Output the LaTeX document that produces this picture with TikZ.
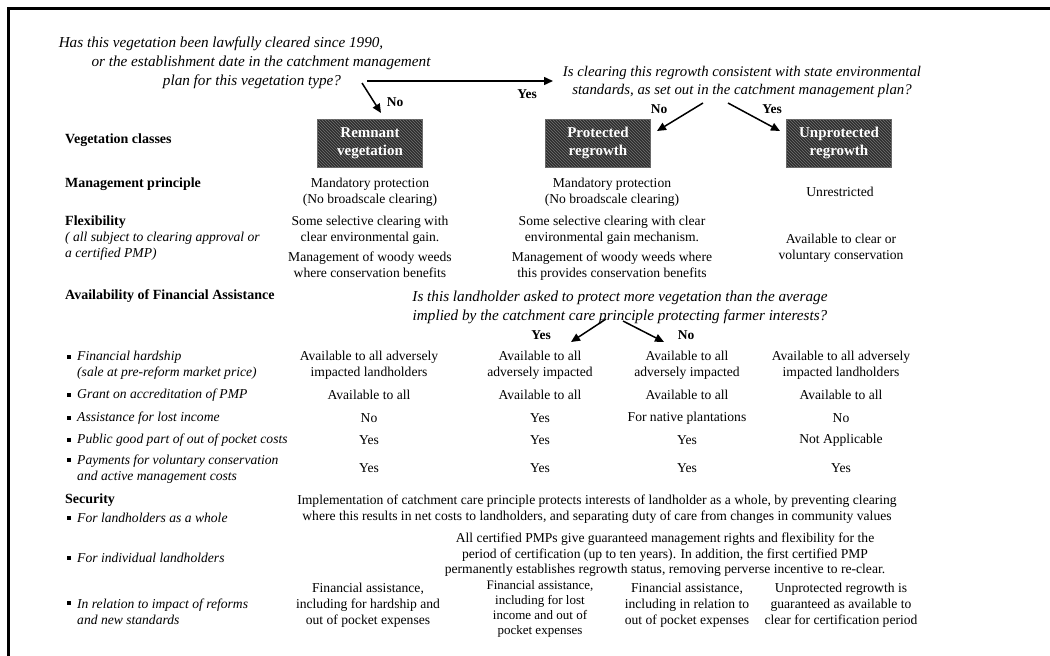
\documentclass[tikz,border=0pt]{standalone}
\usepackage{fontspec}
\setmainfont{Liberation Serif}
\usetikzlibrary{arrows.meta}
\usetikzlibrary{patterns}
\usetikzlibrary{positioning}

\tikzset{
  frame/.style={line width=3pt},
  hdr/.style={anchor=west,inner sep=0pt,font=\fontsize{14}{16}\selectfont\bfseries},
  lbl/.style={anchor=west,inner sep=0pt,align=left,font=\fontsize{13.6}{16}\selectfont\itshape},
  val/.style={inner sep=0pt,align=center,font=\fontsize{13.6}{16}\selectfont},
  ques/.style={inner sep=0pt,align=center,font=\fontsize{15.2}{19}\selectfont\itshape},
  ans/.style={inner sep=0pt,font=\fontsize{13.5}{16}\selectfont\bfseries},
  clsbox/.style={draw=black!60,line width=1pt,fill=black!82,minimum width=105pt,minimum height=48pt,
    align=center,text=white,font=\fontsize{15}{18}\selectfont\bfseries,
    postaction={pattern=north west lines,pattern color=black!55}},
  bul/.style={fill=black,inner sep=0pt,minimum size=4pt},
  arr/.style={-{Triangle[length=9pt,width=8pt]},line width=1.5pt},
}

\begin{document}
\begin{tikzpicture}[x=1pt,y=-1pt]
	\useasboundingbox (0,0) rectangle (1050,656);
	\draw[frame] (1050,8.5) -- (8.5,8.5) -- (8.5,656);

	% decision questions
	\node[ques] (q1) at (261,63) {Has this vegetation been lawfully cleared since 1990,\hspace*{80pt}\\or the establishment date in the catchment management\\plan for this vegetation type?\hspace*{18pt}};
	\node[ques,font=\fontsize{14.8}{18.5}\selectfont\itshape] (q2) at (742,82) {Is clearing this regrowth consistent with state environmental\\standards, as set out in the catchment management plan?};
	\node[ques] (q3) at (620,307.5) {Is this landholder asked to protect more vegetation than the average\\implied by the catchment care principle protecting farmer interests?};

	% vegetation classes
	\node[clsbox] (rem) at (370,143) {Remnant\\vegetation};
	\node[clsbox] (prot) at (598,143) {Protected\\regrowth};
	\node[clsbox] (unp) at (839,143) {Unprotected\\regrowth};

	% answers
	\node[ans] (q1yes) at (527,94) {Yes};
	\node[ans] (q1no) at (395,102) {No};
	\node[ans] (q2no) at (659,109) {No};
	\node[ans] (q2yes) at (772,109) {Yes};
	\node[ans] (q3yes) at (541,335) {Yes};
	\node[ans] (q3no) at (686,335) {No};

	\coordinate (q1a) at (367,81);
	\coordinate (q1b) at (553,81);
	\coordinate (q1c) at (362,83);
	\coordinate (q1d) at (381,113);
	\coordinate (q2a) at (703,103);
	\coordinate (q2b) at (657,131);
	\coordinate (q2c) at (728,103);
	\coordinate (q2d) at (780,131);
	\coordinate (q3a) at (606,319);
	\coordinate (q3b) at (571,342);
	\coordinate (q3c) at (623,321);
	\coordinate (q3d) at (664,342);
	\draw[arr] (q1a) -- (q1b);
	\draw[arr] (q1c) -- (q1d);
	\draw[arr] (q2a) -- (q2b);
	\draw[arr] (q2c) -- (q2d);
	\draw[arr] (q3a) -- (q3b);
	\draw[arr] (q3c) -- (q3d);

	% row headings
	\node[hdr] (hcls) at (65,140) {Vegetation classes};
	\node[hdr] (hmp) at (65,184) {Management principle};
	\node[hdr] (hflx) at (65,222) {Flexibility};
	\node[lbl] (lflx) at (65,246.5) {( all subject to clearing approval or\\a certified PMP)};
	\node[hdr] (hfin) at (65,296) {Availability of Financial Assistance};
	\node[hdr] (hsec) at (65,500) {Security};

	\foreach \y [count=\i] in {357,395,418,440,460,518,558,603}
		\node[bul] (bul\i) at (68.5,\y) {};
	\node[lbl] (lhard) at (77,365) {Financial hardship\\(sale at pre-reform market price)};
	\node[lbl] (lgrant) at (77,395) {Grant on accreditation of PMP};
	\node[lbl] (linc) at (77,418) {Assistance for lost income};
	\node[lbl] (lpub) at (77,440) {Public good part of out of pocket costs};
	\node[lbl] (lpay) at (77,469) {Payments for voluntary conservation\\and active management costs};
	\node[lbl] (lwhole) at (77,518) {For landholders as a whole};
	\node[lbl] (lind) at (77,558) {For individual landholders};
	\node[lbl] (lrel) at (77,611.5) {In relation to impact of reforms\\and new standards};

	% management principle and flexibility
	\node[val] (mp1) at (370,192) {Mandatory protection\\(No broadscale clearing)};
	\node[val] (mp2) at (612,192) {Mandatory protection\\(No broadscale clearing)};
	\node[val] (mp3) at (840,192) {Unrestricted};
	\node[val] (fx1) at (370,230.5) {Some selective clearing with\\clear environmental gain.};
	\node[val] (fw1) at (370,265) {Management of woody weeds\\where conservation benefits};
	\node[val] (fx2) at (612,230.5) {Some selective clearing with clear\\environmental gain mechanism.};
	\node[val] (fw2) at (612,266) {Management of woody weeds where\\this provides conservation benefits};
	\node[val] (fx3) at (841,248) {Available to clear or\\voluntary conservation};

	% financial assistance
	\node[val] (hd1) at (369,365) {Available to all adversely\\impacted landholders};
	\node[val] (hd2) at (540,365) {Available to all\\adversely impacted};
	\node[val] (hd3) at (687,365) {Available to all\\adversely impacted};
	\node[val] (hd4) at (841,365) {Available to all adversely\\impacted landholders};
	\node[val] (gr1) at (369,395) {Available to all};
	\node[val] (gr2) at (540,395) {Available to all};
	\node[val] (gr3) at (687,395) {Available to all};
	\node[val] (gr4) at (841,395) {Available to all};
	\node[val] (in1) at (369,418) {No};
	\node[val] (in2) at (540,418) {Yes};
	\node[val] (in3) at (687,418) {For native plantations};
	\node[val] (in4) at (841,418) {No};
	\node[val] (pg1) at (369,440) {Yes};
	\node[val] (pg2) at (540,440) {Yes};
	\node[val] (pg3) at (687,440) {Yes};
	\node[val] (pg4) at (841,440) {Not Applicable};
	\node[val] (py1) at (369,468) {Yes};
	\node[val] (py2) at (540,468) {Yes};
	\node[val] (py3) at (687,468) {Yes};
	\node[val] (py4) at (841,468) {Yes};

	% security
	\node[val] (sw) at (597,509) {Implementation of catchment care principle protects interests of landholder as a whole, by preventing clearing\\where this results in net costs to landholders, and separating duty of care from changes in community values};
	\node[val,font=\fontsize{13.6}{15.5}\selectfont] (si) at (665,555) {All certified PMPs give guaranteed management rights and flexibility for the\\period of certification (up to ten years). In addition, the first certified PMP\\permanently establishes regrowth status, removing perverse incentive to re-clear.};
	\node[val] (sr1) at (368,605) {Financial assistance,\\including for hardship and\\out of pocket expenses};
	\node[val,font=\fontsize{13}{15}\selectfont] (sr2) at (540,609) {Financial assistance,\\including for lost\\income and out of\\pocket expenses};
	\node[val] (sr3) at (687,605) {Financial assistance,\\including in relation to\\out of pocket expenses};
	\node[val] (sr4) at (841,605) {Unprotected regrowth is\\guaranteed as available to\\clear for certification period};
\end{tikzpicture}
\end{document}
